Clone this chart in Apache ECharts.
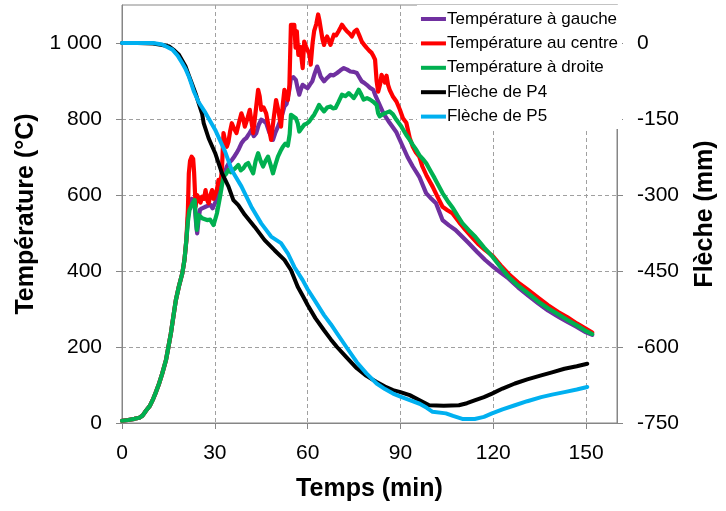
<!DOCTYPE html>
<html>
<head>
<meta charset="utf-8">
<script src="https://cdn.jsdelivr.net/npm/echarts@6/dist/echarts.min.js"></script>
<style>html,body{margin:0;padding:0;background:#fff}#c{width:726px;height:511px}</style>
</head>
<body>
<div id="c"></div>
<script>
const xTicks = [0, 30, 60, 90, 120, 150];
const tempTicks = [0, 200, 400, 600, 800, 1000];
const flecheTicks = [-750, -600, -450, -300, -150, 0];

const seriesNames = ['Température à gauche', 'Température au centre', 'Température à droite', 'Flèche de P4', 'Flèche de P5'];

// early common rise of the three temperature curves
const riseTime = [0, 2, 4, 5.6, 6.7, 7.8, 9, 9.9, 11, 12, 13, 14.2, 15, 15.8, 16.6, 17.4, 18.4, 19.5, 20.2, 20.8];
const riseTemp = [6, 8, 11, 14, 20, 33, 45, 60, 82, 104, 130, 165, 200, 236, 280, 323, 360, 394, 430, 481];

const timeGauche = [21.3, 21.8, 22.5, 23.0, 23.5, 24.0, 24.3, 24.8, 25.2, 25.9, 26.5, 27, 27.8, 28.6, 29.3, 30.1, 30.7, 31.2, 32.3, 33.1, 33.9, 34.6, 35.5, 36.2, 37, 37.8, 38.6, 39.4, 40.2, 41, 41.8, 42.6, 43.4, 44.2, 45, 45.8, 46.6, 47.6, 48.8, 49.6, 50.4, 51.4, 52.5, 53.2, 54.1, 54.6, 55.4, 56.2, 56.8, 57.3, 57.9, 58.4, 59.2, 60, 60.7, 61.5, 62.3, 63.1, 63.7, 64.2, 65.3, 66.3, 67.4, 68.4, 69.5, 70.6, 71.7, 72.8, 73.8, 74.9, 75.9, 76.7, 77.5, 78.3, 79.1, 80.2, 81.2, 82, 82.8, 84.5, 86.5, 88.7, 90.8, 92.3, 94, 96.1, 98.3, 100, 101.5, 103.6, 105.7, 107.8, 110, 112.1, 114.8, 117.4, 120, 122.5, 125, 128, 131.3, 134.5, 137.7, 141, 144, 147, 149.6, 152];
const tempGauche = [540, 570, 590, 595, 570, 520, 499, 540, 561, 565, 560, 569, 572, 574, 565, 579, 590, 605, 631, 655, 675, 685, 692, 700, 710, 722, 736, 745, 750, 760, 771, 755, 763, 785, 798, 795, 789, 765, 745, 765, 780, 800, 833, 840, 877, 908, 910, 903, 880, 864, 880, 890, 885, 881, 890, 899, 920, 938, 925, 912, 899, 908, 916, 915, 921, 928, 934, 930, 925, 924, 921, 910, 899, 895, 890, 882, 877, 860, 846, 815, 790, 765, 727, 700, 675, 648, 605, 590, 578, 534, 520, 508, 490, 473, 450, 429, 411, 395, 380, 357, 335, 315, 296, 280, 266, 253, 240, 232];

const timeCentre = [21.3, 21.6, 22.0, 22.5, 23.0, 23.3, 23.8, 24.3, 24.8, 25.4, 25.9, 26.5, 27, 27.6, 28, 28.6, 29.1, 29.6, 30.1, 30.7, 31.2, 31.8, 32.3, 32.8, 33.4, 33.9, 34.4, 35, 35.5, 36.2, 37, 37.8, 38.6, 39.2, 39.7, 40.5, 41.3, 41.9, 42.4, 43.2, 44, 44.5, 45, 45.8, 46.6, 47.4, 48.2, 49, 49.8, 50.6, 51.4, 52, 52.5, 53.1, 53.6, 54.1, 54.6, 55.2, 55.7, 56.1, 56.5, 57, 57.6, 58.4, 58.9, 59.5, 60, 60.6, 61, 61.6, 62.1, 62.8, 63.4, 63.8, 64.2, 64.8, 65.3, 65.8, 66.3, 66.9, 67.4, 68, 68.5, 69.2, 70, 70.6, 71.1, 71.8, 72.7, 73.5, 74.3, 75.1, 75.9, 76.7, 77.5, 78.3, 79.1, 79.9, 80.7, 81.3, 81.8, 82.3, 82.8, 83.4, 83.9, 84.5, 85, 85.5, 86, 86.5, 87.5, 88.7, 89.8, 90.8, 91.9, 93, 94, 95, 96.1, 97.1, 98.5, 100.4, 102, 103.6, 105.2, 106.8, 109, 111, 113, 115, 117.4, 119.8, 122.4, 125, 128, 131.3, 134.5, 137.7, 141, 144, 147, 149.6, 152];
const tempCentre = [560, 657, 690, 701, 695, 660, 569, 600, 605, 580, 596, 590, 613, 585, 578, 600, 613, 590, 587, 615, 640, 630, 666, 763, 740, 727, 740, 770, 789, 775, 763, 790, 815, 800, 780, 800, 824, 790, 763, 820, 877, 860, 824, 830, 815, 780, 745, 800, 850, 820, 780, 840, 877, 860, 850, 887, 1048, 1050, 1048, 988, 1031, 969, 990, 934, 1004, 990, 995, 970, 943, 1000, 1031, 1050, 1075, 1060, 1040, 1010, 995, 1010, 1017, 1005, 995, 1010, 1022, 1020, 1031, 1040, 1048, 1040, 1031, 1025, 1017, 1030, 1035, 1020, 1004, 995, 987, 980, 974, 965, 956, 900, 872, 890, 916, 905, 896, 914, 890, 877, 860, 846, 825, 802, 790, 750, 727, 712, 701, 675, 650, 622, 595, 569, 560, 552, 528, 508, 490, 472, 455, 440, 415, 392, 370, 350, 330, 310, 292, 278, 262, 250, 238];

const timeDroite = [21.3, 21.8, 22.8, 23.5, 23.9, 24.2, 24.8, 25.9, 27.5, 28.5, 29.1, 29.6, 30.1, 30.7, 31.7, 32.2, 32.8, 33.6, 34.4, 35.2, 36, 36.8, 37.6, 38.4, 39.2, 40, 40.8, 41.6, 42.4, 43.2, 44, 44.8, 45.6, 46.4, 47.2, 48, 48.8, 49.6, 50.4, 51.2, 52, 52.8, 53.6, 54.2, 54.6, 55.2, 56.2, 56.8, 57.3, 58, 58.9, 59.7, 60.5, 61.5, 62.1, 63, 63.7, 64.5, 65.3, 66.3, 67.4, 68.2, 69, 70, 71.1, 72.2, 73.3, 74.1, 74.9, 75.7, 76.5, 77.3, 78.1, 79.2, 80.2, 81.3, 82.3, 82.8, 83.3, 84.2, 85.3, 86.5, 87.6, 88.7, 90.3, 91.9, 93, 94, 95.2, 96.1, 97.2, 98.3, 99.6, 101, 102.3, 103.6, 105.2, 107, 108.5, 110, 112, 114.2, 117, 119.8, 122.4, 124.9, 128, 131.3, 134.5, 137.7, 141, 144, 147, 149.6, 152];
const tempDroite = [530, 560, 578, 587, 540, 508, 547, 539, 534, 535, 530, 521, 525, 552, 596, 620, 648, 655, 666, 660, 666, 672, 679, 665, 670, 680, 684, 670, 657, 690, 710, 690, 675, 690, 701, 680, 657, 680, 701, 715, 727, 735, 730, 760, 811, 815, 802, 789, 767, 775, 785, 788, 793, 805, 811, 825, 837, 828, 820, 830, 833, 828, 829, 845, 864, 860, 868, 862, 855, 865, 877, 865, 851, 855, 851, 845, 837, 815, 807, 812, 816, 820, 812, 798, 780, 758, 745, 732, 718, 705, 695, 684, 665, 645, 625, 605, 585, 565, 545, 526, 508, 490, 462, 437, 410, 385, 362, 341, 320, 302, 286, 271, 257, 244, 234];

const timeP4 = [0, 5, 10, 13, 15.3, 17, 18.4, 19.5, 20.6, 21.6, 22.7, 23.8, 24.8, 25.9, 26.4, 28, 30.1, 32.3, 34.4, 36, 37.6, 39.7, 42.9, 46.1, 49.3, 52.5, 54.6, 56.8, 58.5, 60, 62.5, 65.3, 67.5, 69.5, 72.5, 75.9, 79, 82.3, 85, 87.6, 90, 93, 96.2, 99.3, 104, 108.9, 111.5, 114.2, 117, 119.6, 123, 127, 131, 135.5, 139, 143, 147, 150.4];
const flecheP4 = [0, 0, -1, -4, -7, -15, -23, -35, -47, -64, -82, -100, -119, -140, -158, -188, -217, -257, -283, -310, -320, -339, -363, -389, -409, -428, -448, -481, -500, -517, -543, -567, -585, -600, -620, -642, -657, -669, -678, -685, -689, -695, -705, -715, -716, -715, -711, -705, -699, -692, -682, -672, -664, -656, -650, -643, -638, -633];

const timeP5 = [0, 5, 10, 13, 16.3, 18, 19.5, 20.6, 21.6, 22.4, 23.2, 24.8, 27, 30.1, 33.3, 35.5, 38.6, 41.8, 45, 48.2, 51.4, 53.6, 55.7, 58.4, 60, 62.5, 65.3, 67.5, 69.5, 72.5, 75.9, 79, 82.3, 85, 87.6, 90, 93, 96.2, 98.5, 100.4, 104.7, 107, 110, 114, 117, 119.6, 123, 127, 131, 135.5, 139, 143, 147, 150.4];
const flecheP5 = [0, 0, 0, -3, -13, -25, -40, -52, -66, -80, -95, -117, -138, -171, -214, -251, -283, -323, -356, -382, -395, -415, -442, -468, -486, -510, -537, -555, -573, -600, -630, -652, -672, -683, -692, -698, -705, -712, -720, -728, -731, -736, -742, -742, -738, -731, -723, -715, -707, -699, -694, -689, -684, -679];

function zip(ts, vs) { return ts.map((t, i) => [t, vs[i]]); }
function withRise(ts, vs) { return zip(riseTime, riseTemp).concat(zip(ts, vs)); }

const FONT = '"Liberation Sans", Arial, sans-serif';
const GRID_LINE = { show: true, lineStyle: { color: '#A0A0A0', type: [4, 3], width: 1 } };
const AX_LINE = { show: true, lineStyle: { color: '#868686', width: 1 } };
const AX_TICK = (vals) => ({ show: true, length: 6, inside: false, lineStyle: { color: '#868686' }, customValues: vals });

const chart = echarts.init(document.getElementById('c'), null, { renderer: 'canvas' });

function line(name, data, color, yIdx, z, w) {
  return {
    name: name, type: 'line', data: data, yAxisIndex: yIdx, color: color,
    showSymbol: false, symbol: 'none', z: z,
    lineStyle: { width: w, color: color, join: 'round', cap: 'round' },
    animation: false
  };
}

chart.setOption({
  animation: false,
  textStyle: { fontFamily: FONT, color: '#000' },
  grid: { left: 122, right: 104, top: 5, bottom: 88, show: true, borderColor: '#868686', borderWidth: 1, backgroundColor: 'transparent' },
  legend: {
    orient: 'vertical', right: 104, top: 5, icon: 'rect', itemWidth: 25, itemHeight: 4, itemGap: 7.4,
    padding: [5.5, 4, 4, 4], backgroundColor: '#fff', z: 10,
    textStyle: { fontSize: 17, fontFamily: FONT, color: '#000', padding: [0, 0, 0, -4] },
    data: seriesNames
  },
  xAxis: {
    type: 'value', min: 0, max: 160, interval: 30,
    name: 'Temps (min)', nameLocation: 'middle', nameGap: 54,
    nameTextStyle: { fontSize: 25, fontWeight: 'bold', fontFamily: FONT, color: '#000' },
    axisLine: AX_LINE, axisTick: AX_TICK(xTicks),
    axisLabel: { fontSize: 21, color: '#000', margin: 20, fontFamily: FONT, customValues: xTicks },
    splitLine: GRID_LINE
  },
  yAxis: [
    {
      type: 'value', min: 0, max: 1100, interval: 200, position: 'left',
      name: 'Température (°C)', nameLocation: 'middle', nameGap: 82,
      nameTextStyle: { fontSize: 25, fontWeight: 'bold', fontFamily: FONT, color: '#000' },
      axisLine: AX_LINE, axisTick: AX_TICK(tempTicks),
      axisLabel: { fontSize: 21, color: '#000', margin: 20, fontFamily: FONT, customValues: tempTicks,
        formatter: v => v >= 1000 ? '1 000' : String(v) },
      splitLine: GRID_LINE
    },
    {
      type: 'value', min: -750, max: 75, interval: 150, position: 'right',
      name: 'Flèche (mm)', nameLocation: 'middle', nameGap: 76,
      nameTextStyle: { fontSize: 25, fontWeight: 'bold', fontFamily: FONT, color: '#000' },
      axisLine: AX_LINE, axisTick: AX_TICK(flecheTicks),
      axisLabel: { fontSize: 21, color: '#000', margin: 20, fontFamily: FONT, customValues: flecheTicks },
      splitLine: { show: false }
    }
  ],
  series: [
    line(seriesNames[0], withRise(timeGauche, tempGauche), '#7030A0', 0, 2, 4.2),
    line(seriesNames[1], withRise(timeCentre, tempCentre), '#FF0000', 0, 3, 4.2),
    line(seriesNames[2], withRise(timeDroite, tempDroite), '#00B050', 0, 4, 4.2),
    line(seriesNames[3], zip(timeP4, flecheP4), '#000000', 1, 5, 4),
    line(seriesNames[4], zip(timeP5, flecheP5), '#00B0F0', 1, 6, 4)
  ]
});
</script>
</body>
</html>
